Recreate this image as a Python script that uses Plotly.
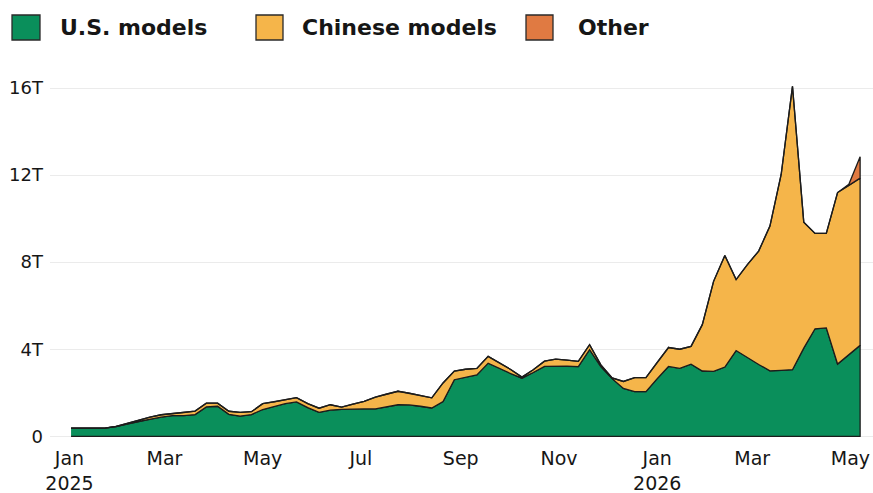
import plotly.graph_objects as go

# Weekly observations (week starting dates)
dates = [
    "2025-01-02", "2025-01-09", "2025-01-16", "2025-01-23", "2025-01-30",
    "2025-02-06", "2025-02-13", "2025-02-20", "2025-02-27",
    "2025-03-06", "2025-03-13", "2025-03-20", "2025-03-27",
    "2025-04-03", "2025-04-10", "2025-04-17", "2025-04-24",
    "2025-05-01", "2025-05-08", "2025-05-15", "2025-05-22", "2025-05-29",
    "2025-06-05", "2025-06-12", "2025-06-19", "2025-06-26",
    "2025-07-03", "2025-07-10", "2025-07-17", "2025-07-24", "2025-07-31",
    "2025-08-07", "2025-08-14", "2025-08-21", "2025-08-28",
    "2025-09-04", "2025-09-11", "2025-09-18", "2025-09-25",
    "2025-10-02", "2025-10-09", "2025-10-16", "2025-10-23", "2025-10-30",
    "2025-11-06", "2025-11-13", "2025-11-20", "2025-11-27",
    "2025-12-04", "2025-12-11", "2025-12-18", "2025-12-25",
    "2026-01-01", "2026-01-08", "2026-01-15", "2026-01-22", "2026-01-29",
    "2026-02-05", "2026-02-12", "2026-02-19", "2026-02-26",
    "2026-03-05", "2026-03-12", "2026-03-19", "2026-03-26",
    "2026-04-02", "2026-04-09", "2026-04-16", "2026-04-23", "2026-04-30",
    "2026-05-07",
]

# Tokens, in trillions
us_models = [
    0.38, 0.38, 0.38, 0.38, 0.45, 0.57, 0.68, 0.79, 0.88, 0.95,
    0.95, 1.00, 1.35, 1.38, 1.01, 0.93, 1.00, 1.23, 1.38, 1.50,
    1.58, 1.32, 1.10, 1.20, 1.24, 1.26, 1.26, 1.26, 1.36, 1.45,
    1.44, 1.38, 1.30, 1.60, 2.60, 2.72, 2.82, 3.36, 3.12, 2.88,
    2.67, 2.93, 3.21, 3.22, 3.22, 3.20, 3.98, 3.20, 2.65, 2.20,
    2.05, 2.05, 2.65, 3.21, 3.12, 3.31, 3.00, 2.98, 3.18, 3.94,
    3.63, 3.30, 3.01, 3.03, 3.06, 4.05, 4.94, 4.98, 3.32, 3.75,
    4.18,
]
chinese_models = [
    0.00, 0.00, 0.00, 0.00, 0.01, 0.03, 0.07, 0.09, 0.11, 0.10,
    0.14, 0.16, 0.17, 0.14, 0.14, 0.17, 0.13, 0.27, 0.20, 0.19,
    0.20, 0.18, 0.19, 0.25, 0.10, 0.22, 0.34, 0.54, 0.59, 0.62,
    0.54, 0.50, 0.47, 0.85, 0.40, 0.36, 0.30, 0.31, 0.25, 0.19,
    0.05, 0.13, 0.24, 0.33, 0.28, 0.24, 0.23, 0.08, 0.03, 0.32,
    0.65, 0.65, 0.75, 0.87, 0.88, 0.82, 2.13, 4.14, 5.13, 3.26,
    4.26, 5.21, 6.65, 9.01, 13.02, 5.79, 4.38, 4.34, 7.88, 7.78,
    7.68,
]
other_models = [0.0] * 69 + [0.05, 0.98]

series_names = ["U.S. models", "Chinese models", "Other"]
series_colors = ["#0a8f5b", "#f5b54a", "#e07a42"]

x_tick_vals = ["2025-01-01", "2025-03-01", "2025-05-01", "2025-07-01", "2025-09-01",
               "2025-11-01", "2026-01-01", "2026-03-01", "2026-05-01"]
x_tick_text = ["Jan<br>2025", "Mar", "May", "Jul", "Sep", "Nov", "Jan<br>2026", "Mar", "May"]
y_tick_vals = [0, 4, 8, 12, 16]
y_tick_text = ["0", "4T", "8T", "12T", "16T"]

FONT = "DejaVu Sans"
INK = "#161616"

fig = go.Figure()

lower = [0.0] * len(dates)
for name, vals, color in zip(series_names, [us_models, chinese_models, other_models], series_colors):
    upper = [a + b for a, b in zip(lower, vals)]
    fig.add_trace(go.Scatter(
        x=dates + dates[::-1],
        y=upper + lower[::-1],
        fill="toself",
        fillcolor=color,
        mode="lines",
        line=dict(color="#1c1c1c", width=1.3),
        name=name,
        showlegend=False,
        hoverinfo="skip",
    ))
    lower = upper

# Legend drawn as swatches + text (paper coords; plot area spans px x 50..873, y 440..70)
PW, PH = 823.0, 370.0
def px_x(p):
    return (p - 50) / PW
def px_y(p):
    return (440 - p) / PH

legend_items = [
    (series_names[0], series_colors[0], 12, 40, 58),
    (series_names[1], series_colors[1], 256, 283, 300),
    (series_names[2], series_colors[2], 526, 553, 576),
]
for name, color, x0, x1, tx in legend_items:
    fig.add_shape(type="rect", xref="paper", yref="paper", x0=px_x(x0), x1=px_x(x1),
                  y0=px_y(40), y1=px_y(15), fillcolor=color,
                  line=dict(color="#2a2a2a", width=1.3))
    fig.add_annotation(xref="paper", yref="paper", x=px_x(tx), y=px_y(27),
                       text="<b>%s</b>" % name,
                       showarrow=False, xanchor="left", yanchor="middle",
                       font=dict(family=FONT, size=22, color=INK))

fig.update_layout(
    width=873, height=493,
    margin=dict(l=50, r=0, t=70, b=53),
    paper_bgcolor="white", plot_bgcolor="white",
    showlegend=False,
    font=dict(family=FONT, size=18, color=INK),
    xaxis=dict(
        range=["2024-12-19 22:00", "2026-05-15"],
        tickvals=x_tick_vals, ticktext=x_tick_text,
        showgrid=False, zeroline=False, showline=False,
        ticks="", ticklabelstandoff=5, automargin=False,
        tickfont=dict(family=FONT, size=19, color=INK),
    ),
    yaxis=dict(
        range=[-0.17, 16.83],
        tickvals=y_tick_vals, ticktext=y_tick_text,
        showgrid=True, gridcolor="#ebebeb", gridwidth=1,
        zeroline=False, showline=False, ticks="",
        ticklabelstandoff=6, automargin=False,
        tickfont=dict(family=FONT, size=18, color=INK),
    ),
)

fig.write_html("out.html", config={"displayModeBar": False},
               post_script="document.body.style.margin='0';document.body.style.overflow='hidden';")
